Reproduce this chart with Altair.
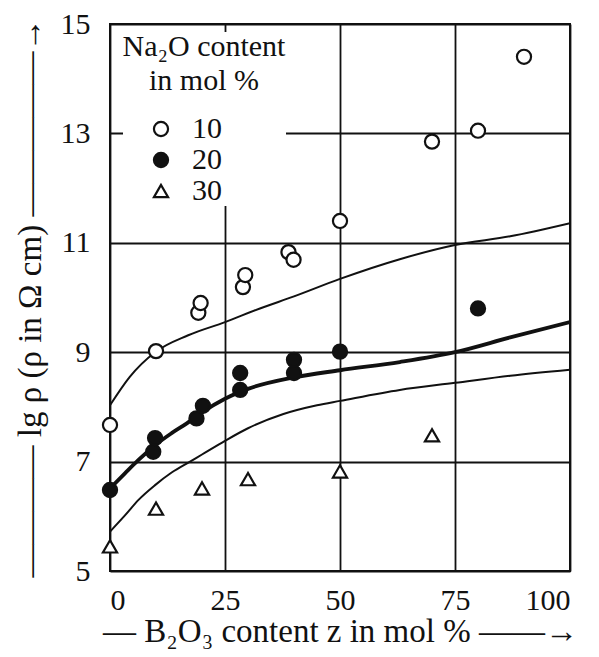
import altair as alt
import pandas as pd

# Measured log resistivity vs B2O3 content, one series per Na2O content
z_10 = [0, 10, 19.2, 19.7, 28.9, 29.4, 38.8, 39.9, 50, 70, 80, 90]
lg_10 = [7.67, 9.02, 9.72, 9.9, 10.19, 10.41, 10.83, 10.69, 11.4, 12.85, 13.05, 14.4]
z_20 = [0, 9.4, 9.8, 18.8, 20.2, 28.3, 28.3, 40, 40, 50, 80]
lg_20 = [6.48, 7.18, 7.43, 7.79, 8.02, 8.31, 8.62, 8.62, 8.86, 9.01, 9.8]
z_30 = [0, 10, 20, 30, 50, 70]
lg_30 = [5.45, 6.14, 6.51, 6.68, 6.82, 7.48]

# Trend curves through the data
upper_z = [0, 4.3, 9.8, 17, 25, 32.6, 40, 50, 63, 75, 87, 100]
upper_lg = [8.03, 8.55, 9.0, 9.31, 9.55, 9.8, 10.02, 10.34, 10.7, 10.96, 11.12, 11.36]
middle_z = [0, 3.3, 6.2, 9.8, 13.4, 16.7, 20, 25, 30, 40, 50, 63, 75, 87, 100]
middle_lg = [6.51, 6.79, 7.03, 7.3, 7.52, 7.7, 7.9, 8.15, 8.33, 8.54, 8.67, 8.82, 9.0, 9.27, 9.55]
lower_z = [0, 3.3, 6.2, 9.8, 13.4, 17.4, 20, 25, 30, 37.7, 45, 50, 63, 75, 87, 100]
lower_lg = [5.72, 6.02, 6.3, 6.57, 6.8, 7.0, 7.13, 7.38, 7.61, 7.87, 8.03, 8.11, 8.31, 8.44, 8.57, 8.68]

x_ticks = [0, 25, 50, 75, 100]
y_ticks = [5, 7, 9, 11, 13, 15]
series = ["10", "20", "30"]

FONT = "Liberation Serif, DejaVu Serif, serif"
INK = "#111111"

points = pd.concat([
    pd.DataFrame({"z": z_10, "lg": lg_10, "na2o": "10"}),
    pd.DataFrame({"z": z_20, "lg": lg_20, "na2o": "20"}),
    pd.DataFrame({"z": z_30, "lg": lg_30, "na2o": "30"}),
], ignore_index=True)

x_enc = alt.X(
    "z:Q",
    scale=alt.Scale(domain=[0, 100], nice=False, zero=False),
    axis=alt.Axis(
        values=x_ticks,
        title="— B₂O₃ content z in mol %  ——→",
        titleFontSize=33,
        titlePadding=0,
        labelPadding=14,
    ),
)
y_enc = alt.Y(
    "lg:Q",
    scale=alt.Scale(domain=[5, 15], nice=False, zero=False),
    axis=alt.Axis(
        values=y_ticks,
        title="———— lg ρ (ρ in Ω cm) —————→",
        titleFontSize=33,
        titlePadding=13,
        labelPadding=20,
    ),
)


def curve(zs, lgs, width):
    df = pd.DataFrame({"z": zs, "lg": lgs})
    return alt.Chart(df).mark_line(
        interpolate="monotone", color=INK, strokeWidth=width, clip=True
    ).encode(x=x_enc, y=y_enc)


legend = alt.Legend(
    title=["Na₂O content", "in mol %"],
    orient="none",
    legendX=13,
    legendY=8,
    fillColor="white",
    padding=0,
    titleFont=FONT,
    titleFontSize=30,
    titleFontWeight="normal",
    titleColor=INK,
    titleAnchor="middle",
    titleAlign="center",
    titleLineHeight=34,
    titlePadding=18,
    labelFont=FONT,
    labelFontSize=30,
    labelColor=INK,
    labelOffset=16,
    symbolOffset=-40,
    symbolSize=200,
    symbolStrokeWidth=2.2,
    rowPadding=1,
)

marks = alt.Chart(points).mark_point(
    size=200, strokeWidth=2.2, opacity=1
).encode(
    x=x_enc,
    y=y_enc,
    shape=alt.Shape(
        "na2o:N",
        scale=alt.Scale(domain=series, range=["circle", "circle", "triangle-up"]),
        legend=legend,
    ),
    fill=alt.Fill(
        "na2o:N",
        scale=alt.Scale(domain=series, range=["white", INK, "white"]),
        legend=legend,
    ),
    stroke=alt.Stroke(
        "na2o:N",
        scale=alt.Scale(domain=series, range=[INK, INK, INK]),
        legend=legend,
    ),
)

chart = alt.layer(
    curve(upper_z, upper_lg, 2),
    curve(middle_z, middle_lg, 3.8),
    curve(lower_z, lower_lg, 2),
    marks,
).properties(
    width=460,
    height=547,
    autosize=alt.AutoSizeParams(type="none"),
    padding={"left": 110, "top": 24, "right": 29, "bottom": 86},
    background="white",
).configure_view(
    stroke=INK, strokeWidth=2
).configure_axis(
    grid=True,
    gridColor=INK,
    gridWidth=1.8,
    gridOpacity=1,
    domain=False,
    ticks=False,
    labelFont=FONT,
    labelFontSize=30,
    labelColor=INK,
    titleFont=FONT,
    titleFontSize=30,
    titleFontWeight="normal",
    titleColor=INK,
)

chart.save("out.html", embed_options={"renderer": "svg", "actions": False})
